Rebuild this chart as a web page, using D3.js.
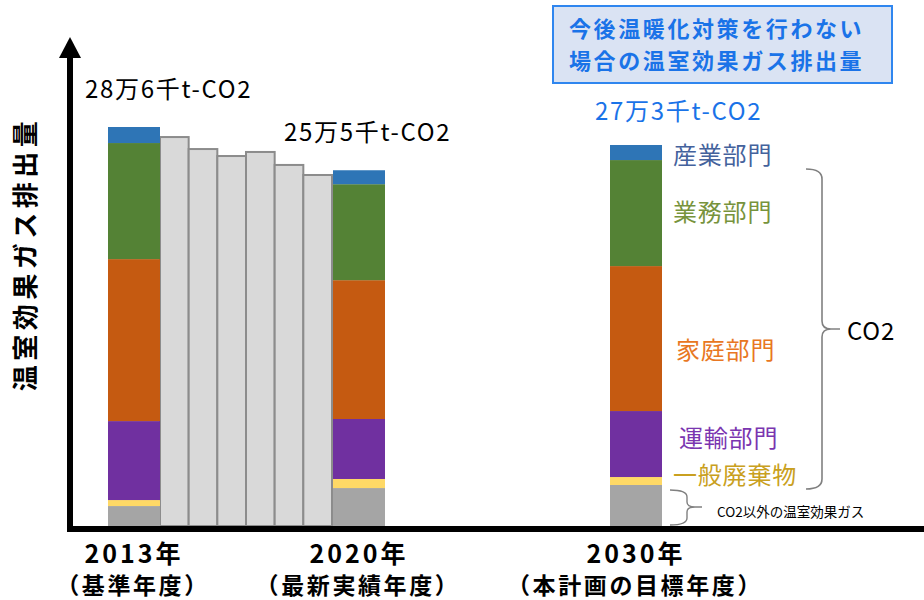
<!DOCTYPE html>
<html>
<head>
<meta charset="utf-8">
<script src="https://cdn.jsdelivr.net/npm/d3@7"></script>
<style>
  html, body { margin: 0; padding: 0; background: #fff; }
  svg { display: block; }
  text { font-family: "Noto Sans CJK JP", "Noto Sans", sans-serif; }
</style>
</head>
<body>
<svg id="chart" width="924" height="600"></svg>
<script>
// ---------- DATA (thousand t-CO2) ----------
const sectorKeys = ["other", "waste", "transport", "household", "business", "industry"];
const sectorNames = ["CO2以外の温室効果ガス", "一般廃棄物", "運輸部門", "家庭部門", "業務部門", "産業部門"];
const mainYears = ["2013", "2020", "2030"];
const values2013 = [14.3, 4.3, 56.6, 116.1, 83.2, 11.5];
const values2020 = [27.2, 6.5, 43.0, 99.5, 68.8, 10.0];
const values2030 = [29.4, 5.7, 47.3, 103.9, 76.0, 10.8];
const grayYears = ["2014", "2015", "2016", "2017", "2018", "2019"];
const grayTotals = [278.8, 270.2, 265.2, 268.1, 258.8, 251.6];
const totalLabels = ["28万6千t-CO2", "25万5千t-CO2", "27万3千t-CO2"];
const yearLabels = ["2013年", "2020年", "2030年"];
const yearNotes = ["（基準年度）", "（最新実績年度）", "（本計画の目標年度）"];
const boxLines = ["今後温暖化対策を行わない", "場合の温室効果ガス排出量"];
const yTitle = "温室効果ガス排出量";

// ---------- STYLE ----------
const colors = ["#a5a5a5", "#ffd966", "#7030a0", "#c55a11", "#548235", "#2e75b6"];
const labelColors = ["#000000", "#c9a020", "#7a35b0", "#e87722", "#77933c", "#44629c"];

const svg = d3.select("#chart");

// ---------- SCALES ----------
const y = d3.scaleLinear().domain([0, 286]).range([526, 127]);
const xMain = d3.scaleOrdinal().domain(mainYears).range([134, 359, 636]);
const mainW = 52;
const xGray = d3.scaleBand().domain(grayYears).range([160, 332]).padding(0);

// ---------- GRAY BARS ----------
svg.append("g").selectAll("rect")
  .data(grayYears.map((yr, i) => ({ yr, v: grayTotals[i] })))
  .join("rect")
  .attr("x", d => xGray(d.yr))
  .attr("width", xGray.bandwidth())
  .attr("y", d => y(d.v))
  .attr("height", d => y(0) - y(d.v))
  .attr("fill", "#d9d9d9")
  .attr("stroke", "#8c8c8c")
  .attr("stroke-width", 2);

// ---------- STACKED BARS ----------
const rows = [values2013, values2020, values2030].map((vals, i) => {
  const o = { year: mainYears[i] };
  sectorKeys.forEach((k, j) => o[k] = vals[j]);
  return o;
});
const series = d3.stack().keys(sectorKeys)(rows);

svg.append("g").selectAll("g")
  .data(series)
  .join("g")
  .attr("fill", (d, i) => colors[i])
  .selectAll("rect")
  .data(d => d)
  .join("rect")
  .attr("x", d => xMain(d.data.year) - mainW / 2)
  .attr("width", mainW)
  .attr("y", d => y(d[1]))
  .attr("height", d => y(d[0]) - y(d[1]));

// ---------- AXES ----------
const axes = svg.append("g");
axes.append("line").attr("x1", 70).attr("x2", 70).attr("y1", 532).attr("y2", 56)
  .attr("stroke", "#000").attr("stroke-width", 6);
axes.append("path").attr("d", "M59,58 L81,58 L70,37 Z").attr("fill", "#000");
axes.append("line").attr("x1", 67).attr("x2", 924).attr("y1", 529).attr("y2", 529)
  .attr("stroke", "#000").attr("stroke-width", 6);

// y title
svg.append("text")
  .attr("transform", "translate(35,254) rotate(-90)")
  .attr("text-anchor", "middle")
  .attr("font-size", 26).attr("font-weight", "bold")
  .attr("letter-spacing", 4.5)
  .attr("fill", "#000")
  .text(yTitle);

// x labels
const xl = svg.append("g").attr("text-anchor", "middle").attr("font-weight", "bold").attr("fill", "#000");
xl.selectAll("text.yr").data(mainYears).join("text").attr("class", "yr")
  .attr("x", d => xMain(d)).attr("y", 563).attr("font-size", 25)
  .attr("letter-spacing", 3)
  .text((d, i) => yearLabels[i]);
xl.selectAll("text.note").data(mainYears).join("text").attr("class", "note")
  .attr("x", d => xMain(d) - 1).attr("y", 594).attr("font-size", 23)
  .attr("letter-spacing", 2.6)
  .text((d, i) => yearNotes[i]);

// total labels
const totals = [values2013, values2020, values2030].map(v => d3.sum(v));
const totalPos = [{ dx: -49, dy: -29, c: "#000" }, { dx: -75, dy: -29, c: "#000" }, { dx: -41, dy: -25, c: "#1a73e8" }];
svg.append("g").selectAll("text").data(mainYears).join("text")
  .attr("x", (d, i) => xMain(d) + totalPos[i].dx)
  .attr("y", (d, i) => y(totals[i]) + totalPos[i].dy)
  .attr("font-size", 24)
  .attr("letter-spacing", 1.7)
  .attr("fill", (d, i) => totalPos[i].c)
  .text((d, i) => totalLabels[i]);

// sector labels for 2030
const s2030 = series.map(s => s[2]);
const nudge = [0, -6, -6, 12, -1, 3];
const labX = [0, 673, 679, 676, 673, 673];
svg.append("g").selectAll("text").data(d3.range(1, 6)).join("text")
  .attr("x", i => labX[i])
  .attr("y", i => (y(s2030[i][0]) + y(s2030[i][1])) / 2 + nudge[i])
  .attr("dy", "0.36em")
  .attr("font-size", 24)
  .attr("letter-spacing", 0.8)
  .attr("fill", i => labelColors[i])
  .text(i => sectorNames[i]);

// small label for other gases
svg.append("text").attr("x", 717).attr("y", 517).attr("font-size", 13.5).attr("fill", "#000")
  .text(sectorNames[0]);

// brackets
svg.append("path")
  .attr("d", "M806,169 Q822,169 822,179 L822,321 Q822,329 831,329 L840,329 M831,329 Q822,329 822,337 L822,479 Q822,489 806,489")
  .attr("fill", "none").attr("stroke", "#808080").attr("stroke-width", 1.6);
svg.append("path")
  .attr("d", "M670,490 Q687,490 687,497 L687,502 Q687,507 695,507 L702,507 M695,507 Q687,507 687,512 L687,518 Q687,525 670,525")
  .attr("fill", "none").attr("stroke", "#808080").attr("stroke-width", 1.4);
svg.append("text").attr("x", 847).attr("y", 340).attr("font-size", 24).attr("letter-spacing", 0.8)
  .attr("fill", "#000").text("CO2");

// top-right box
const box = svg.append("g");
box.append("rect").attr("x", 553).attr("y", 6).attr("width", 339).attr("height", 77)
  .attr("fill", "#dae3f3").attr("stroke", "#2f86ef").attr("stroke-width", 2);
box.selectAll("text").data(boxLines).join("text")
  .attr("x", 569).attr("y", (d, i) => 37 + i * 32)
  .attr("font-size", 22).attr("font-weight", "bold").attr("fill", "#1a73e8")
  .attr("letter-spacing", 2.6)
  .text(d => d);
</script>
</body>
</html>
